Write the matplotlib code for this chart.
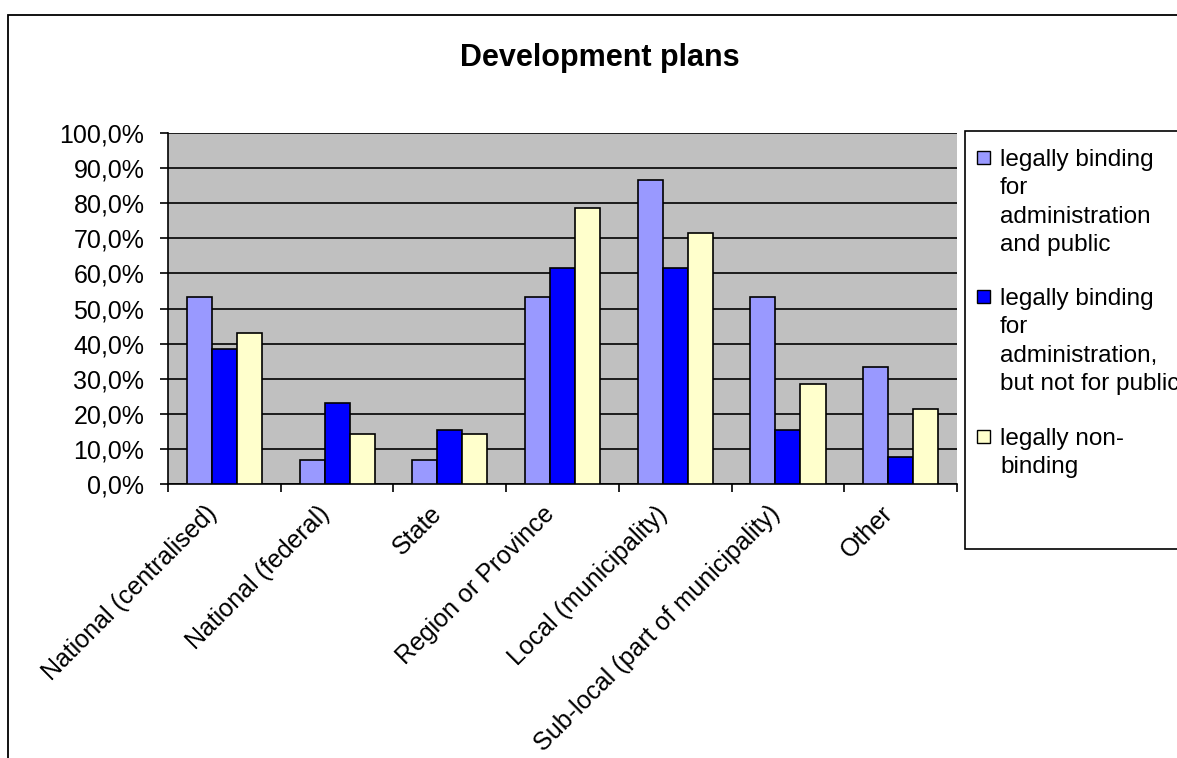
import numpy as np
import matplotlib.pyplot as plt
import matplotlib.transforms as mtransforms
from matplotlib.patches import Rectangle
from matplotlib.ticker import FuncFormatter, FixedLocator

plt.rcParams['font.family'] = ['Liberation Sans', 'DejaVu Sans']

# --- DATA ---
categories = ["National (centralised)", "National (federal)", "State",
              "Region or Province", "Local (municipality)",
              "Sub-local (part of municipality)", "Other"]
binding_all = [53.3, 6.7, 6.7, 53.3, 86.7, 53.3, 33.3]
binding_admin = [38.5, 23.1, 15.4, 61.5, 61.5, 15.4, 7.7]
non_binding = [42.9, 14.3, 14.3, 78.6, 71.4, 28.6, 21.4]
series_labels = ["legally binding\nfor\nadministration\nand public",
                 "legally binding\nfor\nadministration,\nbut not for public",
                 "legally non-\nbinding"]
colors = ['#9999FF', '#0000FF', '#FFFFCC']

W, H = 1177, 758
fig = plt.figure(figsize=(W / 100, H / 100), dpi=100)
ax = fig.add_axes([168 / W, 1 - 484 / H, (957 - 168) / W, (484 - 133) / H])

# outer chart frame (runs off the right and bottom edge)
fig.patches.append(Rectangle((8 / W, -0.1), 1.2, 1.1 - 15 / H, transform=fig.transFigure,
                             fill=False, edgecolor='black', linewidth=1.3, zorder=0))

x = np.arange(len(categories))
width = 1 / 4.5
for i, (vals, c) in enumerate(zip([binding_all, binding_admin, non_binding], colors)):
    ax.bar(x + (i - 1) * width, vals, width, color=c, edgecolor='black',
           linewidth=1.2, zorder=3)

ax.set_facecolor('#C0C0C0')
ax.set_xlim(-0.5, len(categories) - 0.5)
ax.set_ylim(0, 100)
ax.set_yticks(np.arange(0, 101, 10))
ax.yaxis.set_major_formatter(FuncFormatter(lambda v, p: f"{v:.1f}%".replace('.', ',')))
ax.grid(axis='y', color='black', linewidth=1.2, zorder=1)
ax.set_axisbelow(True)

ax.set_xticks(x)
ax.set_xticklabels(categories, rotation=45, ha='right', va='top', rotation_mode='anchor',
                   fontsize=18)
ax.tick_params(axis='x', which='major', length=0, pad=14)
ax.xaxis.set_minor_locator(FixedLocator(np.arange(-0.5, len(categories), 1)))
ax.tick_params(axis='x', which='minor', length=6, width=1.2)
ax.tick_params(axis='y', labelsize=18, length=6, width=1.2, pad=11)

# nudge the slanted category labels a little to the left of their slot centre
shift = mtransforms.ScaledTranslation(-0.2, 0.02, fig.dpi_scale_trans)
for lbl in ax.get_xticklabels():
    lbl.set_transform(lbl.get_transform() + shift)

for side in ['top', 'right']:
    ax.spines[side].set_visible(False)
ax.spines['left'].set_linewidth(1.2)
ax.spines['bottom'].set_linewidth(1.2)

fig.text(600 / W, 1 - 58 / H, "Development plans", ha='center', va='center',
         fontsize=22, fontweight='bold')

# legend: framed box with swatch squares aligned to the first text line
fig.patches.append(Rectangle((965 / W, 1 - 549 / H), 0.3, (549 - 131) / H,
                             transform=fig.transFigure, facecolor='white',
                             edgecolor='black', linewidth=1.2, zorder=1))
entry_tops = [151, 290, 430]
for top, c, lab in zip(entry_tops, colors, series_labels):
    fig.patches.append(Rectangle((977 / W, 1 - (top + 13) / H), 13 / W, 13 / H,
                                 transform=fig.transFigure, facecolor=c,
                                 edgecolor='black', linewidth=1.0, zorder=2))
    fig.text(1000 / W, 1 - (top - 2) / H, lab, ha='left', va='top', fontsize=17.5,
             linespacing=1.38, zorder=3)

fig.savefig('out.png', dpi=100)
